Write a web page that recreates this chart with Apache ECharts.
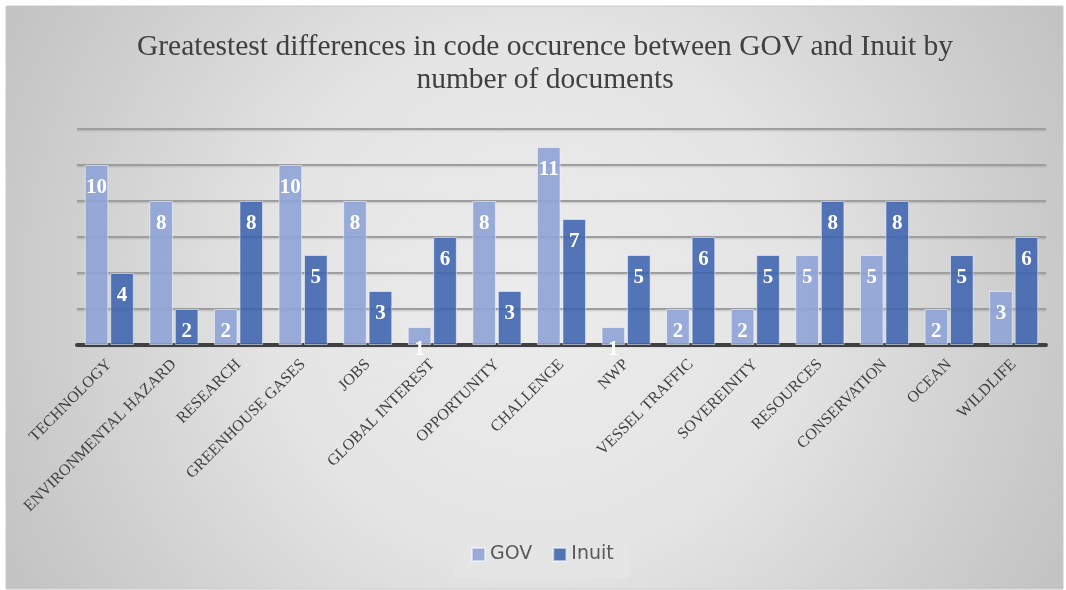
<!DOCTYPE html>
<html>
<head>
<meta charset="utf-8">
<script src="https://cdn.jsdelivr.net/npm/echarts@6/dist/echarts.min.js"></script>
<style>
html, body { margin: 0; padding: 0; background: #fff; }
#container { width: 1066px; height: 590px; }
</style>
</head>
<body>
<div id="container"></div>
<script>
// categories and values
var categories = ['TECHNOLOGY', 'ENVIRONMENTAL HAZARD', 'RESEARCH', 'GREENHOUSE GASES', 'JOBS',
    'GLOBAL INTEREST', 'OPPORTUNITY', 'CHALLENGE', 'NWP', 'VESSEL TRAFFIC', 'SOVEREINITY',
    'RESOURCES', 'CONSERVATION', 'OCEAN', 'WILDLIFE'];
var govValues = [10, 8, 2, 10, 8, 1, 8, 11, 1, 2, 2, 5, 5, 2, 3];
var inuitValues = [4, 2, 8, 5, 3, 6, 3, 7, 5, 6, 5, 8, 8, 5, 6];
var seriesNames = ['GOV', 'Inuit'];

var dom = document.getElementById('container');
var myChart = echarts.init(dom);

var barLabel = {
    show: true,
    position: 'insideTop',
    distance: 12,
    color: '#fff',
    fontFamily: 'Liberation Serif',
    fontWeight: 'bold',
    fontSize: 21
};

var option = {
    backgroundColor: '#fff',
    graphic: [{
        type: 'rect',
        z: -10,
        silent: true,
        shape: { x: 6, y: 6, width: 1057, height: 583 },
        style: {
            fill: new echarts.graphic.RadialGradient(0.5, 0.5, 1.0, [
                { offset: 0, color: '#ececec' },
                { offset: 0.45, color: '#e4e4e4' },
                { offset: 0.92, color: '#c8c8c8' },
                { offset: 1, color: '#c4c4c4' }
            ]),
            stroke: '#c8c8c8',
            lineWidth: 1
        }
    }],
    title: {
        text: 'Greatestest differences in code occurence between GOV and Inuit by\nnumber of documents',
        left: 540,
        textAlign: 'center',
        top: 26,
        textStyle: {
            fontFamily: 'Liberation Serif',
            fontWeight: 'normal',
            fontSize: 29.5,
            color: '#404040',
            lineHeight: 33
        }
    },
    legend: {
        data: seriesNames,
        bottom: 12,
        left: 455,
        itemWidth: 13,
        itemHeight: 13,
        itemGap: 20,
        padding: [14, 16, 14, 16],
        backgroundColor: '#e5e5e5',
        icon: 'rect',
        textStyle: {
            fontFamily: 'DejaVu Sans',
            fontSize: 19,
            color: '#595959'
        }
    },
    grid: {
        left: 77,
        right: 20,
        top: 129,
        bottom: 245
    },
    xAxis: {
        type: 'category',
        data: categories,
        axisLine: { lineStyle: { color: '#404040', width: 4 } },
        axisTick: { show: false },
        axisLabel: {
            rotate: 45,
            interval: 0,
            margin: 17,
            fontFamily: 'Liberation Serif',
            fontSize: 16,
            color: '#404040'
        }
    },
    yAxis: {
        type: 'value',
        min: 0,
        max: 12,
        interval: 2,
        axisLabel: { show: false },
        axisLine: { show: false },
        axisTick: { show: false },
        splitLine: {
            lineStyle: {
                color: '#9e9e9e',
                width: 2,
                shadowColor: 'rgba(0,0,0,0.15)',
                shadowBlur: 2,
                shadowOffsetY: 1
            }
        }
    },
    series: [
        {
            name: seriesNames[0],
            type: 'bar',
            data: govValues,
            barGap: '8%',
            barCategoryGap: '24%',
            itemStyle: {
                color: 'rgba(143,163,214,0.9)',
                borderColor: 'rgba(255,255,255,0.5)',
                borderWidth: 1
            },
            label: barLabel
        },
        {
            name: seriesNames[1],
            type: 'bar',
            data: inuitValues,
            itemStyle: {
                color: 'rgba(62,100,176,0.88)',
                borderColor: 'rgba(255,255,255,0.5)',
                borderWidth: 1
            },
            label: barLabel
        }
    ]
};

if (option && typeof option === 'object') {
    myChart.setOption(option, true);
}
</script>
</body>
</html>
